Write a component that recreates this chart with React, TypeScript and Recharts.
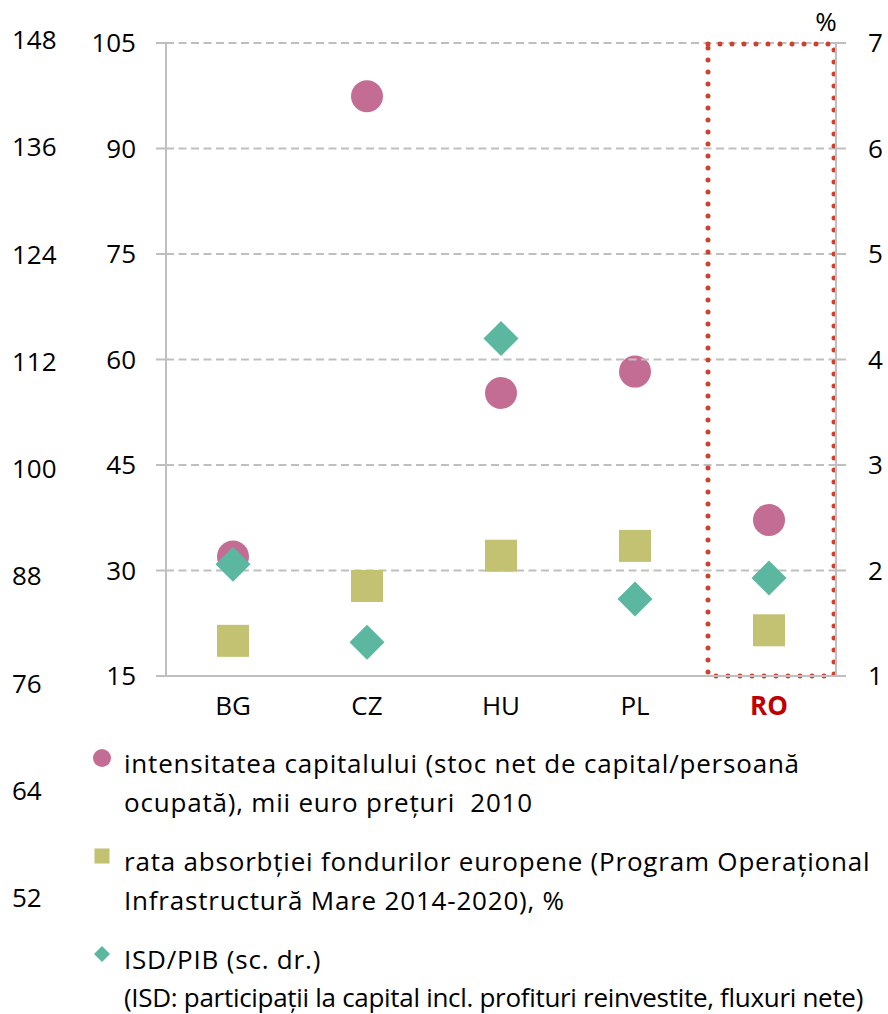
import React from 'react';
import {
  ComposedChart,
  Scatter,
  XAxis,
  YAxis,
  CartesianGrid,
  ReferenceArea,
} from 'recharts';

const countries = ['BG', 'CZ', 'HU', 'PL', 'RO'];
const capitalIntensity = [90.2, 141.7, 108.5, 110.9, 94.3];
const absorptionRate = [20.0, 27.8, 32.1, 33.5, 21.5];
const fdiToGdp = [2.06, 1.32, 4.2, 1.73, 1.93];
const leftTicks = [15, 30, 45, 60, 75, 90, 105];
const outerTicks = [52, 64, 76, 88, 100, 112, 124, 136, 148];
const rightTicks = [1, 2, 3, 4, 5, 6, 7];
const highlighted = 'RO';

const legendItems = [
  { key: 'capital', lines: ['intensitatea capitalului (stoc net de capital/persoană', 'ocupată), mii euro prețuri  2010'] },
  { key: 'absorption', lines: ['rata absorbției fondurilor europene (Program Operațional', 'Infrastructură Mare 2014-2020), %'] },
  { key: 'fdi', lines: ['ISD/PIB (sc. dr.)', '(ISD: participații la capital incl. profituri reinvestite, fluxuri nete)'] },
];

const data = countries.map((c, i) => ({
  country: c,
  capital: capitalIntensity[i],
  absorption: absorptionRate[i],
  fdi: fdiToGdp[i],
}));

const FONT = '"Open Sans", Lato, sans-serif';
const FS = 26;
const GRID = '#BFBFBF';
const C_CIRCLE = '#C46D94';
const C_SQUARE = '#C2C272';
const C_DIAMOND = '#5BB7A0';
const C_RED = '#D04030';

const CircleShape = (p: any) => <circle cx={p.cx} cy={p.cy} r={16} fill={C_CIRCLE} />;
const SquareShape = (p: any) => (
  <rect x={p.cx - 16} y={p.cy - 16} width={32} height={32} fill={C_SQUARE} />
);
const DiamondShape = (p: any) => {
  const h = 17.5;
  return (
    <polygon
      points={`${p.cx},${p.cy - h} ${p.cx + h},${p.cy} ${p.cx},${p.cy + h} ${p.cx - h},${p.cy}`}
      fill={C_DIAMOND}
    />
  );
};

const HighlightBox = (p: any) => (
  <rect
    x={p.x + 6}
    y={p.y + 1}
    width={p.width - 8}
    height={p.height - 1}
    fill="none"
    stroke={C_RED}
    strokeWidth={5}
    strokeDasharray="0 12"
    strokeLinecap="round"
  />
);

const XTick = (p: any) => {
  const v = p.payload.value;
  const hi = v === highlighted;
  return (
    <text
      x={p.x}
      y={p.y}
      dy="0.71em"
      textAnchor="middle"
      fontFamily={FONT}
      fontSize={FS}
      fontWeight={hi ? 700 : 400}
      fill={hi ? '#C00000' : '#000'}
    >
      {v}
    </text>
  );
};

const OuterTick = (p: any) => (
  <text x={p.x} y={p.y} dy="0.355em" textAnchor="start" fontFamily={FONT} fontSize={FS} fill="#000">
    {p.payload.value}
  </text>
);

const LegendMarker = ({ k }: { k: string }) => {
  if (k === 'capital')
    return (
      <svg width={20} height={20} style={{ display: 'block' }}>
        <circle cx={10} cy={10} r={9} fill={C_CIRCLE} />
      </svg>
    );
  if (k === 'absorption')
    return (
      <svg width={20} height={20} style={{ display: 'block' }}>
        <rect x={2.5} y={2.5} width={15} height={15} fill={C_SQUARE} />
      </svg>
    );
  return (
    <svg width={20} height={20} style={{ display: 'block' }}>
      <polygon points="10,2 18,10 10,18 2,10" fill={C_DIAMOND} />
    </svg>
  );
};

export default function App() {
  return (
    <div
      style={{
        position: 'absolute',
        left: 0,
        top: 0,
        width: 888,
        height: 1014,
        overflow: 'hidden',
        background: '#fff',
        fontFamily: FONT,
      }}
    >
      {/* outer left axis + capital intensity */}
      <div style={{ position: 'absolute', left: 0, top: 0 }}>
        <ComposedChart width={888} height={920} data={data} margin={{ top: 40, right: 52, bottom: 22, left: 0 }}>
          <XAxis dataKey="country" xAxisId="x" scale="band" hide />
          <YAxis
            yAxisId="cap"
            width={166}
            domain={[52, 148]}
            ticks={outerTicks}
            interval={0}
            axisLine={false}
            tickLine={false}
            tickSize={0}
            tickMargin={154}
            tick={<OuterTick />}
          />
          <Scatter
            name="capital"
            dataKey="capital"
            xAxisId="x"
            yAxisId="cap"
            shape={CircleShape}
            isAnimationActive={false}
          />
        </ComposedChart>
      </div>

      {/* main chart */}
      <div style={{ position: 'absolute', left: 0, top: 0 }}>
        <ComposedChart width={888} height={730} data={data} margin={{ top: 43, right: 0, bottom: 0, left: 0 }}>
          <CartesianGrid
            xAxisId="x"
            yAxisId="sq"
            vertical={false}
            stroke={GRID}
            strokeWidth={2}
            strokeDasharray="8 4.5"
          />
          <XAxis
            dataKey="country"
            xAxisId="x"
            scale="band"
            height={54}
            axisLine={{ stroke: GRID, strokeWidth: 2 }}
            tickLine={false}
            tickSize={0}
            tickMargin={21}
            interval={0}
            tick={<XTick />}
          />
          <YAxis
            yAxisId="sq"
            orientation="left"
            width={166}
            domain={[15, 105]}
            ticks={leftTicks}
            interval={0}
            axisLine={{ stroke: GRID, strokeWidth: 2 }}
            tickLine={{ stroke: GRID, strokeWidth: 2 }}
            tickSize={10}
            tickMargin={20}
            tick={{ fill: '#000', fontSize: FS, fontFamily: FONT }}
          />
          <YAxis
            yAxisId="isd"
            orientation="right"
            width={52}
            domain={[1, 7]}
            ticks={rightTicks}
            interval={0}
            axisLine={{ stroke: GRID, strokeWidth: 2 }}
            tickLine={{ stroke: GRID, strokeWidth: 2 }}
            tickSize={10}
            tickMargin={22}
            tick={{ fill: '#000', fontSize: FS, fontFamily: FONT }}
            label={{ value: '%', position: 'top', offset: 12, dx: -36, fill: '#000', fontSize: FS, fontFamily: FONT }}
          />
          <ReferenceArea
            xAxisId="x"
            yAxisId="sq"
            x1={highlighted}
            x2={highlighted}
            y1={15}
            y2={105}
            ifOverflow="visible"
            shape={HighlightBox}
          />
          <Scatter
            name="absorption"
            dataKey="absorption"
            xAxisId="x"
            yAxisId="sq"
            shape={SquareShape}
            isAnimationActive={false}
          />
          <Scatter
            name="fdi"
            dataKey="fdi"
            xAxisId="x"
            yAxisId="isd"
            shape={DiamondShape}
            isAnimationActive={false}
          />
        </ComposedChart>
      </div>

      {/* legend */}
      <div style={{ position: 'absolute', left: 92, top: 744, width: 796 }}>
        {legendItems.map((it, i) => (
          <div key={it.key} style={{ display: 'flex', alignItems: 'flex-start', marginBottom: i === 0 ? 20 : 20 }}>
            <div style={{ width: 32, paddingTop: 4, flex: '0 0 32px' }}>
              <LegendMarker k={it.key} />
            </div>
            <div style={{ fontFamily: FONT, fontSize: FS, lineHeight: '39px', color: '#000', whiteSpace: 'pre' }}>
              {it.lines.map((ln, j) => {
                const long = ln.length > 60;
                return (
                  <div
                    key={j}
                    style={
                      long
                        ? { letterSpacing: '-0.3px', lineHeight: '24px', marginTop: 6 }
                        : { letterSpacing: '0.8px' }
                    }
                  >
                    {ln}
                  </div>
                );
              })}
            </div>
          </div>
        ))}
      </div>
    </div>
  );
}
